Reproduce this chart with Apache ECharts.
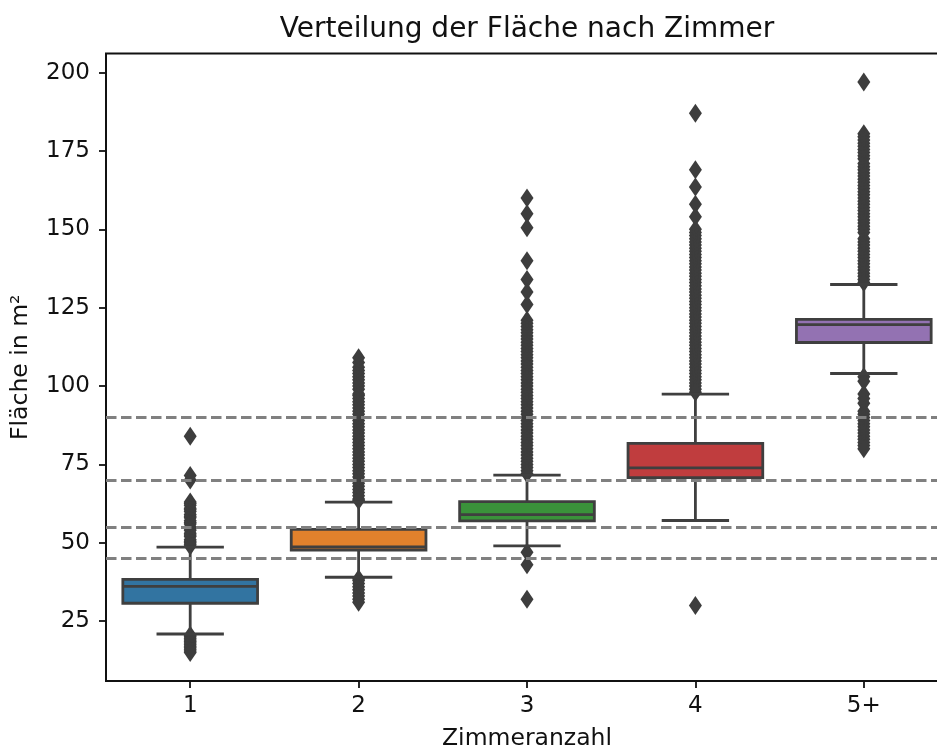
<!DOCTYPE html>
<html>
<head>
<meta charset="utf-8">
<script src="https://cdn.jsdelivr.net/npm/echarts@6/dist/echarts.min.js"></script>
<style>
html, body { margin: 0; padding: 0; background: #ffffff; }
#chart { width: 937px; height: 749px; }
</style>
</head>
<body>
<div id="chart"></div>
<script>
// ---- data ----
const categories = ['1', '2', '3', '4', '5+'];
const whiskerLow  = [20.9, 39.0, 49.0, 57.1, 104.0];
const q1          = [30.7, 47.7, 57.0, 70.8, 113.9];
const median      = [36.1, 48.7, 59.0, 73.9, 119.6];
const q3          = [38.3, 54.3, 63.1, 81.7, 121.3];
const whiskerHigh = [48.6, 63.0, 71.6, 97.4, 132.4];

const outliers1 = [84, 71.5, 70, 63, 62.5, 62, 61, 60.5, 60, 59, 58.5, 58, 57, 56.5, 56, 55, 54.5, 54, 53, 52.5, 52, 51, 50.5, 50, 49.5, 49,
                   20.5, 20, 19.5, 19, 18.5, 18, 17.5, 17, 16.5, 16, 15.5, 15];
const outliers2 = [109, 107.5, 106, 105, 104, 103, 102, 101, 100, 99, 97.5, 97, 96, 95, 94, 93, 92, 91, 90, 89, 88, 87, 86, 85, 84, 83, 82, 81,
                   80, 79, 78, 77, 76, 75, 74, 73, 72, 71, 70, 69, 68, 67, 66, 65, 64, 63.5,
                   38.5, 38, 37, 36, 35, 34, 33, 32, 31];
const outliers3 = [160, 155, 150.5, 140, 134, 130, 126, 121, 120, 119, 118, 117, 116, 115, 114, 113, 112, 111, 110, 109, 108, 107, 106, 105,
                   104, 103, 102, 101, 100, 99, 98, 97, 96, 95, 94, 93, 92, 91, 90, 89, 88, 87, 86, 85, 84, 83, 82, 81, 80, 79, 78, 77,
                   76, 75, 74, 73, 72, 47, 43, 32];
const outliers4 = [187, 169, 163.5, 158, 154, 150, 149, 148, 147, 146, 145, 144, 143, 142, 141, 140, 139, 138, 137, 136, 135, 134, 133, 132,
                   131, 130, 129, 128, 127, 126, 125, 124, 123, 122, 121, 120, 119, 118, 117, 116, 115, 114, 113, 112, 111, 110, 109,
                   108, 107, 106, 105, 104, 103, 102, 101, 100, 99, 98, 30];
const outliers5 = [197, 180.5, 179.5, 178.5, 177.5, 176.5, 175.5, 174.5, 173.5, 172.5, 171, 170, 169, 168, 167, 166, 165, 164, 163, 162, 161,
                   160, 159, 158, 157, 156, 155, 154, 153, 152, 151, 150, 149, 147, 146, 145, 144, 143, 142, 141, 140, 139, 138, 137,
                   136, 135, 134, 133,
                   103, 101.5, 97.5, 96, 94.5, 92, 91, 90, 89, 88, 87, 86, 85, 84, 83, 82, 81, 80];
const outlierGroups = [outliers1, outliers2, outliers3, outliers4, outliers5];

const referenceLines = [45, 55, 70, 90];
const yTicks = [25, 50, 75, 100, 125, 150, 175, 200];

const boxColors = ['#3274a1', '#e1812c', '#3a923a', '#c03d3e', '#9372b2'];

// ---- build series data ----
const boxData = categories.map((c, i) => [i, whiskerLow[i], q1[i], median[i], q3[i], whiskerHigh[i]]);
const outlierData = [];
outlierGroups.forEach((arr, i) => arr.forEach(v => outlierData.push([i, v])));

const EDGE = '#3f3f3f';
const LW = 2.8;
const FONT = 'DejaVu Sans';
const TXT = '#111111';

const chart = echarts.init(document.getElementById('chart'), null, { renderer: 'canvas' });

chart.setOption({
  animation: false,
  backgroundColor: '#ffffff',
  graphic: [{
    type: 'text',
    x: 527, y: 30,
    style: {
      text: 'Verteilung der Fläche nach Zimmer',
      font: '28px "DejaVu Sans"',
      fill: TXT,
      textAlign: 'center',
      textVerticalAlign: 'middle'
    }
  }],
  grid: {
    left: 106, right: -11, top: 53.5, bottom: 68,
    show: true, borderColor: '#111', borderWidth: 2,
    backgroundColor: 'transparent',
    containLabel: false,
    outerBoundsMode: 'none'
  },
  xAxis: {
    type: 'category',
    data: categories,
    boundaryGap: true,
    name: 'Zimmeranzahl',
    nameLocation: 'middle',
    nameGap: 46,
    nameTextStyle: { fontFamily: FONT, fontSize: 23.5, color: TXT },
    axisLine: { show: false },
    axisTick: { show: true, alignWithLabel: true, length: 7, lineStyle: { color: '#111', width: 1.8 } },
    axisLabel: { fontFamily: FONT, fontSize: 23, color: TXT, margin: 14 },
    splitLine: { show: false }
  },
  yAxis: {
    type: 'value',
    min: 5.9, max: 206.1,
    name: 'Fläche in m²',
    nameLocation: 'middle',
    nameRotate: 90,
    nameGap: 73,
    nameTextStyle: { fontFamily: FONT, fontSize: 23.5, color: TXT },
    axisLine: { show: false },
    axisTick: { show: true, length: 7, lineStyle: { color: '#111', width: 1.8 }, customValues: yTicks },
    axisLabel: { fontFamily: FONT, fontSize: 23, color: TXT, margin: 16, customValues: yTicks },
    splitLine: { show: false }
  },
  series: [
    {
      type: 'scatter',
      name: 'outliers',
      data: outlierData,
      symbol: 'diamond',
      symbolSize: [13, 19],
      itemStyle: { color: '#3d3d3d', opacity: 1 },
      z: 2,
      silent: true
    },
    {
      type: 'custom',
      name: 'boxes',
      data: boxData,
      z: 3,
      silent: true,
      renderItem: function (params, api) {
        const idx = api.value(0);
        const pLo = api.coord([idx, api.value(1)]);
        const pQ1 = api.coord([idx, api.value(2)]);
        const pMed = api.coord([idx, api.value(3)]);
        const pQ3 = api.coord([idx, api.value(4)]);
        const pHi = api.coord([idx, api.value(5)]);
        const band = api.size([1, 0])[0];
        const bw = band * 0.8;
        const cw = bw / 2;
        const x = pLo[0];
        const ls = { stroke: EDGE, lineWidth: LW };
        return {
          type: 'group',
          children: [
            { type: 'line', shape: { x1: x, y1: pQ3[1], x2: x, y2: pHi[1] }, style: ls },
            { type: 'line', shape: { x1: x, y1: pQ1[1], x2: x, y2: pLo[1] }, style: ls },
            { type: 'line', shape: { x1: x - cw / 2, y1: pHi[1], x2: x + cw / 2, y2: pHi[1] }, style: ls },
            { type: 'line', shape: { x1: x - cw / 2, y1: pLo[1], x2: x + cw / 2, y2: pLo[1] }, style: ls },
            { type: 'rect', shape: { x: x - bw / 2, y: pQ3[1], width: bw, height: pQ1[1] - pQ3[1] },
              style: { fill: boxColors[idx], stroke: EDGE, lineWidth: LW } },
            { type: 'line', shape: { x1: x - bw / 2, y1: pMed[1], x2: x + bw / 2, y2: pMed[1] }, style: ls }
          ]
        };
      }
    },
    {
      type: 'line',
      name: 'refs',
      data: [],
      z: 10,
      silent: true,
      markLine: {
        silent: true,
        symbol: ['none', 'none'],
        label: { show: false },
        lineStyle: { color: '#808080', width: 2.8, type: [10.5, 4.5], opacity: 1 },
        emphasis: { disabled: true },
        data: referenceLines.map(v => ({ yAxis: v }))
      }
    }
  ]
});
</script>
</body>
</html>
